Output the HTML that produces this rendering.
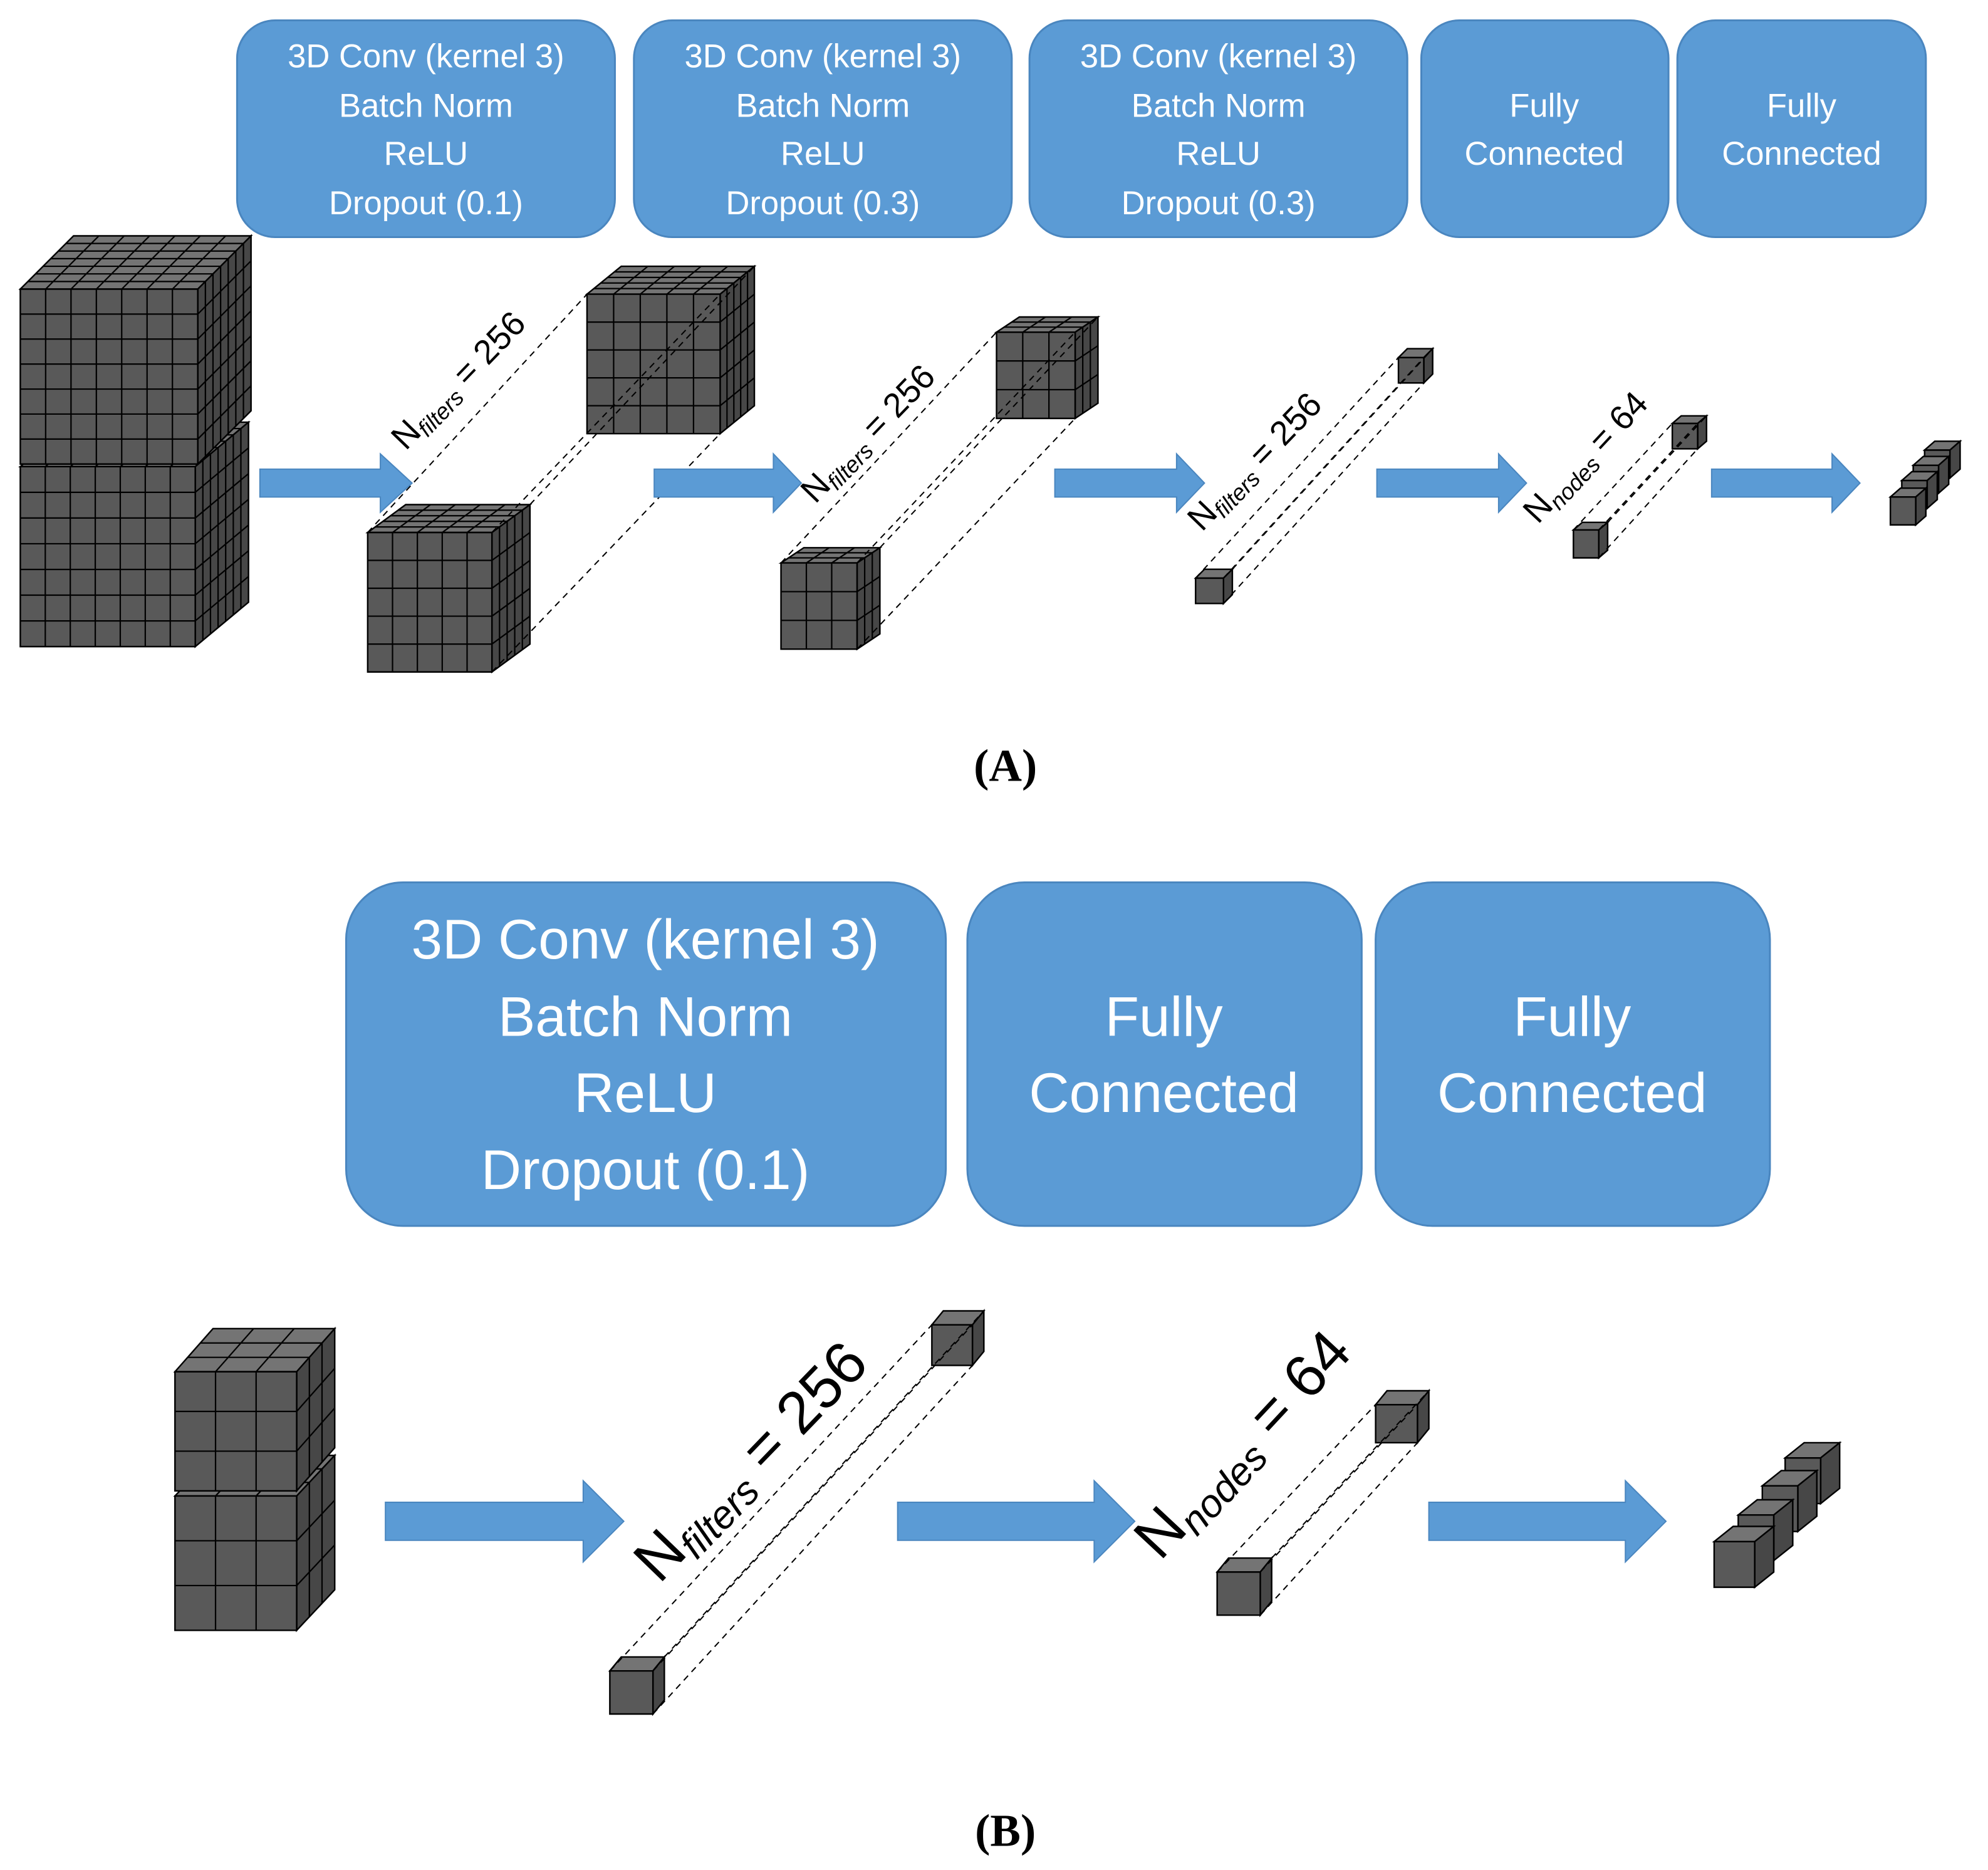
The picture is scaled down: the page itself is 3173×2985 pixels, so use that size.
<!DOCTYPE html>
<html><head><meta charset="utf-8">
<style>html,body{margin:0;padding:0;background:#fff}svg{display:block}</style>
</head><body>
<svg id="s" xmlns="http://www.w3.org/2000/svg" width="3173" height="2985" viewBox="0 0 1568 1475">
<rect width="1568" height="1475" fill="#fff"/>
<g id="cubes"></g>
<g id="dash" stroke="#000" stroke-width="1" stroke-dasharray="5,4" fill="none"></g>
<g fill="#5b9bd5" stroke="#4a86bf" stroke-width="1.5">
  <rect x="187" y="16" width="298" height="171" rx="30"/>
  <rect x="500" y="16" width="298" height="171" rx="30"/>
  <rect x="812" y="16" width="298" height="171" rx="30"/>
  <rect x="1121" y="16" width="195" height="171" rx="30"/>
  <rect x="1323" y="16" width="196" height="171" rx="30"/>
  <rect x="273" y="696" width="473" height="271" rx="45"/>
  <rect x="763" y="696" width="311" height="271" rx="45"/>
  <rect x="1085" y="696" width="311" height="271" rx="45"/>
</g>
<g fill="#5b9bd5" stroke="#4a86bf" stroke-width="1">
  <polygon points="205,370 300,370 300,358 325,381 300,404 300,392 205,392"/>
  <polygon points="516,370 610,370 610,358 632,381 610,404 610,392 516,392"/>
  <polygon points="832,370 928,370 928,358 950,381 928,404 928,392 832,392"/>
  <polygon points="1086,370 1182,370 1182,358 1204,381 1182,404 1182,392 1086,392"/>
  <polygon points="1350,370 1445,370 1445,358 1467,381 1445,404 1445,392 1350,392"/>
  <polygon points="304,1185 460,1185 460,1168 492,1200 460,1232 460,1215 304,1215"/>
  <polygon points="708,1185 863,1185 863,1168 895,1200 863,1232 863,1215 708,1215"/>
  <polygon points="1127,1185 1282,1185 1282,1168 1314,1200 1282,1232 1282,1215 1127,1215"/>
</g>
<g font-family="Liberation Sans, DejaVu Sans, sans-serif" fill="#fff" text-anchor="middle" font-size="26">
  <text x="336" y="53">3D Conv (kernel 3)</text><text x="336" y="92">Batch Norm</text><text x="336" y="130">ReLU</text><text x="336" y="169">Dropout (0.1)</text>
  <text x="649" y="53">3D Conv (kernel 3)</text><text x="649" y="92">Batch Norm</text><text x="649" y="130">ReLU</text><text x="649" y="169">Dropout (0.3)</text>
  <text x="961" y="53">3D Conv (kernel 3)</text><text x="961" y="92">Batch Norm</text><text x="961" y="130">ReLU</text><text x="961" y="169">Dropout (0.3)</text>
  <text x="1218" y="92">Fully</text><text x="1218" y="130">Connected</text>
  <text x="1421" y="92">Fully</text><text x="1421" y="130">Connected</text>
  <g font-size="44">
  <text x="509" y="756">3D Conv (kernel 3)</text><text x="509" y="817">Batch Norm</text><text x="509" y="877">ReLU</text><text x="509" y="938">Dropout (0.1)</text>
  <text x="918" y="817">Fully</text><text x="918" y="877">Connected</text>
  <text x="1240" y="817">Fully</text><text x="1240" y="877">Connected</text>
  </g>
</g>
<g font-family="Liberation Sans, DejaVu Sans, sans-serif" fill="#000" font-size="27">
  <text transform="translate(320,356) rotate(-46)">N<tspan font-size="18" font-style="italic" dy="5">filters</tspan><tspan dy="-5"> = 256</tspan></text>
  <text transform="translate(643,398) rotate(-46)">N<tspan font-size="18" font-style="italic" dy="5">filters</tspan><tspan dy="-5"> = 256</tspan></text>
  <text transform="translate(948,420) rotate(-46)">N<tspan font-size="18" font-style="italic" dy="5">filters</tspan><tspan dy="-5"> = 256</tspan></text>
  <text transform="translate(1213,414) rotate(-47)">N<tspan font-size="18" font-style="italic" dy="5">nodes</tspan><tspan dy="-5"> = 64</tspan></text>
  <text font-size="47" transform="translate(520,1250) rotate(-46)">N<tspan font-size="31" font-style="italic" dy="8">filters</tspan><tspan dy="-8"> = 256</tspan></text>
  <text font-size="47" transform="translate(915,1232) rotate(-47)">N<tspan font-size="31" font-style="italic" dy="8">nodes</tspan><tspan dy="-8"> = 64</tspan></text>
</g>
<g font-family="Liberation Serif, serif" font-weight="bold" font-size="36" text-anchor="middle" fill="#000">
  <text x="793" y="616">(A)</text>
  <text x="793" y="1456">(B)</text>
</g>
</svg>
<script>
var NS="http://www.w3.org/2000/svg";
var G=document.getElementById("cubes"),D=document.getElementById("dash");
function el(p,tag,a){var e=document.createElementNS(NS,tag);for(var k in a)e.setAttribute(k,a[k]);p.appendChild(e);return e;}
function poly(pts,fill){el(G,"polygon",{points:pts.map(function(p){return p[0]+","+p[1]}).join(" "),fill:fill,stroke:"#000","stroke-width":1.2});}
function ln(a,b){el(G,"line",{x1:a[0],y1:a[1],x2:b[0],y2:b[1],stroke:"#000","stroke-width":1.1});}
function cube(x,y,w,h,dx,dy,cols,rows,dep){
  poly([[x,y],[x+dx,y-dy],[x+w+dx,y-dy],[x+w,y]],"#747474");
  poly([[x+w,y],[x+w+dx,y-dy],[x+w+dx,y+h-dy],[x+w,y+h]],"#474747");
  poly([[x,y],[x+w,y],[x+w,y+h],[x,y+h]],"#595959");
  var i,t;
  for(i=1;i<cols;i++){var cx=x+w*i/cols;ln([cx,y],[cx,y+h]);ln([cx,y],[cx+dx,y-dy]);}
  for(i=1;i<rows;i++){var cy=y+h*i/rows;ln([x,cy],[x+w,cy]);ln([x+w,cy],[x+w+dx,cy-dy]);}
  for(i=1;i<dep;i++){t=i/dep;ln([x+dx*t,y-dy*t],[x+w+dx*t,y-dy*t]);ln([x+w+dx*t,y-dy*t],[x+w+dx*t,y+h-dy*t]);}
  return {tl:[x,y],br:[x+w,y+h],tr:[x+w,y],bt:[x+w+dx,y-dy],bl:[x,y+h]};
}
function dl(a,b){el(D,"line",{x1:a[0],y1:a[1],x2:b[0],y2:b[1]});}
function conn(a,b){dl(a.tl,b.tl);dl(a.bt,b.bt);dl(a.br,b.br);dl(a.tr,b.tr);}
cube(16,368,138,142,42,35,7,7,7);
cube(16,228,140,138,42,42,7,7,7);
var a1=cube(290,420,98,110,30,22,5,5,5);
var b1=cube(463,232,105,110,27,22,5,5,5);
conn(a1,b1);
var a2=cube(616,444,60,68,18,12,3,3,3);
var b2=cube(786,262,62,68,18,12,3,3,3);
conn(a2,b2);
var a3=cube(943,456,22,20,7,7,1,1,1);
var b3=cube(1103,282,20,20,7,7,1,1,1);
conn(a3,b3);
var a4=cube(1241,418,20,22,7,6,1,1,1);
var b4=cube(1319,334,20,20,7,6,1,1,1);
conn(a4,b4);
cube(1518,355,20,22,8,7,1,1,1);
cube(1509,367,20,22,8,7,1,1,1);
cube(1500,379,20,22,8,7,1,1,1);
cube(1491,392,20,22,8,7,1,1,1);
cube(138,1180,96,106,30,32,3,3,3);
cube(138,1082,96,94,30,34,3,3,3);
var c1=cube(481,1318,34,34,9,11,1,1,1);
var d1=cube(735,1045,32,32,9,11,1,1,1);
conn(c1,d1);
var c2=cube(960,1240,34,34,9,11,1,1,1);
var d2=cube(1085,1108,33,30,9,11,1,1,1);
conn(c2,d2);
cube(1408,1150,28,36,15,12,1,1,1);
cube(1390,1172,28,36,15,12,1,1,1);
cube(1371,1195,28,36,15,12,1,1,1);
cube(1352,1216,32,36,15,12,1,1,1);
</script>
</body></html>
